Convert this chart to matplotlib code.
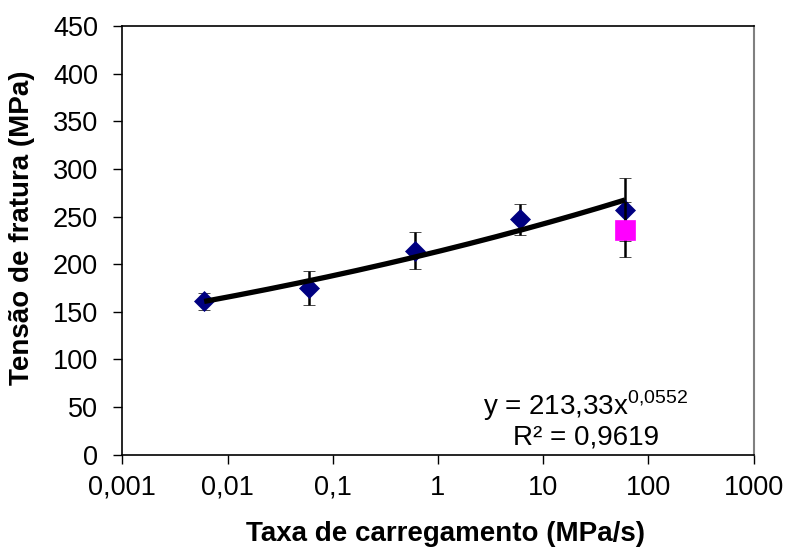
import matplotlib
matplotlib.use("Agg")
import matplotlib.pyplot as plt
import numpy as np

plt.rcParams['font.family'] = ['Liberation Sans', 'DejaVu Sans']
plt.rcParams['mathtext.fontset'] = 'custom'
plt.rcParams['mathtext.rm'] = 'Liberation Sans'

# Data
rate = [0.006, 0.06, 0.6, 6, 60]
stress = [161, 175, 214, 247, 257]
stress_err = [9, 18, 19.5, 16, 33]

rate_extra = [60]
stress_extra = [236]
stress_extra_err = [29]

fit_a = 213.33
fit_b = 0.0552
fit_range = [0.006, 60]

x_ticks = [0.001, 0.01, 0.1, 1, 10, 100, 1000]
x_tick_labels = ['0,001', '0,01', '0,1', '1', '10', '100', '1000']
y_ticks = [0, 50, 100, 150, 200, 250, 300, 350, 400, 450]

fig = plt.figure(figsize=(7.9, 5.49), dpi=100)
ax = fig.add_axes([0.1548, 0.1718, 0.954 - 0.1548, 0.9526 - 0.1718])

ax.errorbar(rate, stress, yerr=stress_err, fmt='D', color='#000080',
            markersize=10.5, markeredgewidth=0.5, ecolor='black',
            elinewidth=1.8, capsize=4.5, capthick=2.2, zorder=3)
ax.errorbar(rate_extra, stress_extra, yerr=stress_extra_err, fmt='s',
            color='#FF00FF', markersize=14, markeredgewidth=0.5,
            ecolor='black', elinewidth=1.8, capsize=4.5, capthick=2.2,
            zorder=4)

xf = np.logspace(np.log10(fit_range[0]), np.log10(fit_range[1]), 200)
ax.plot(xf, fit_a * xf ** fit_b, color='black', linewidth=3.8, zorder=5,
        solid_capstyle='butt')

ax.set_xscale('log')
ax.set_xlim(0.001, 1000)
ax.set_ylim(0, 450)
ax.set_xticks(x_ticks)
ax.set_xticklabels(x_tick_labels)
ax.xaxis.set_minor_locator(matplotlib.ticker.NullLocator())
ax.set_yticks(y_ticks)
ax.tick_params(axis='both', direction='out', length=6.5, width=1,
               labelsize=19.5, color='black')
ax.tick_params(axis='y', pad=11)
ax.tick_params(axis='x', pad=8)

for s in ['left', 'bottom', 'top']:
    ax.spines[s].set_color('black')
    ax.spines[s].set_linewidth(1.2)
ax.spines['right'].set_color('#808080')
ax.spines['right'].set_linewidth(1.5)

ax.text(0.734, 0.0926, r'y = 213,33x$^{\mathregular{0{,}0552}}$',
        transform=ax.transAxes, ha='center', va='baseline', fontsize=20)
ax.text(0.734, 0.0226, 'R² = 0,9619', transform=ax.transAxes,
        ha='center', va='baseline', fontsize=20)

fig.text(445 / 790, 1 - 540.7 / 549, 'Taxa de carregamento (MPa/s)',
         ha='center', va='baseline', fontsize=20, fontweight='bold')
fig.text(29.5 / 790, 1 - 227.5 / 549, 'Tensão de fratura (MPa)',
         ha='center', va='baseline', rotation=90, rotation_mode='anchor',
         fontsize=20, fontweight='bold')

fig.savefig('out.png', dpi=100)
